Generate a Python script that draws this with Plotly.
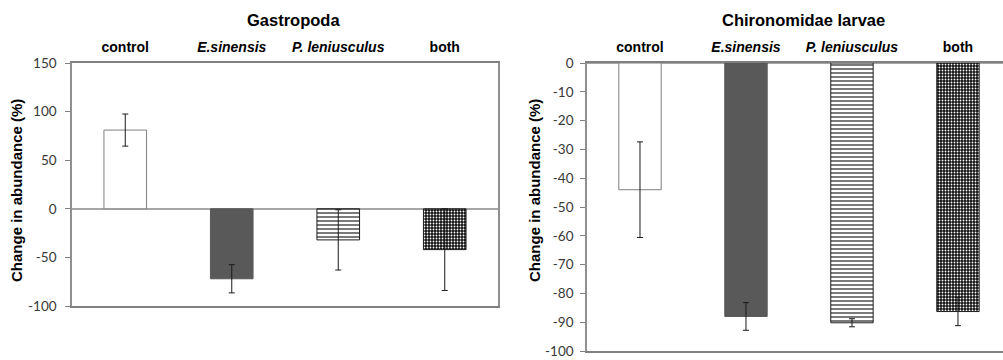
import plotly.graph_objects as go

categories = ["control", "E.sinensis", "P. leniusculus", "both"]
cat_labels = ["<b>control</b>", "<b><i>E.sinensis</i></b>", "<b><i>P. leniusculus</i></b>", "<b>both</b>"]

gastro_mean = [81, -72, -32, -42]
gastro_err = [16.5, 14.5, 31, 42]

chiro_mean = [-44, -88, -90.2, -86.3]
chiro_err = [16.6, 4.8, 1.4, 4.9]

gastro_ticks = [150, 100, 50, 0, -50, -100]
chiro_ticks = [0, -10, -20, -30, -40, -50, -60, -70, -80, -90, -100]

W, H = 1003, 360
xpos = list(range(len(categories)))

# per-treatment bar styling: fill, outline, pattern shape, pattern fg, pattern bg
styles = [
    dict(color="white", line="#7f7f7f", shape="", fg="white", bg="white", size=4, sol=0.3),
    dict(color="#595959", line="#595959", shape="", fg="#595959", bg="#595959", size=4, sol=0.3),
    dict(color="white", line="#1e1e1e", shape="-", fg="#111111", bg="white", size=4, sol=0.28),
    dict(color="black", line="#1e1e1e", shape=".", fg="white", bg="#111111", size=3, sol=0.3),
]


def add_bars(vals, errs, xa, ya):
    for i, (v, e) in enumerate(zip(vals, errs)):
        s = styles[i]
        fig.add_trace(go.Bar(
            x=[xpos[i]], y=[v], width=0.4, xaxis=xa, yaxis=ya,
            marker=dict(
                color=s["color"],
                line=dict(color=s["line"], width=1),
                pattern=dict(shape=s["shape"], fgcolor=s["fg"], bgcolor=s["bg"],
                             size=s["size"], solidity=s["sol"], fillmode="replace"),
            ),
            error_y=dict(type="data", array=[e], visible=True,
                         color="#1a1a1a", thickness=1, width=3),
            showlegend=False, hoverinfo="skip", name=categories[i],
        ))


fig = go.Figure()
add_bars(gastro_mean, gastro_err, "x", "y")
add_bars(chiro_mean, chiro_err, "x2", "y2")

tickfont = dict(family="Lato, Liberation Sans, sans-serif", size=13.5, color="#383838")
catfont = dict(family="Liberation Sans, Arial, sans-serif", size=14, color="black")

common_x = dict(
    tickmode="array", tickvals=xpos, ticktext=cat_labels, side="top",
    ticks="", tickfont=catfont, showgrid=False, zeroline=False,
    showline=True, linecolor="#808080", linewidth=1.5, ticklabelstandoff=4,
    automargin=False,
)
common_y = dict(
    showgrid=False, ticks="outside", ticklen=5, tickcolor="#808080",
    tickfont=tickfont, showline=True, linecolor="#909090", linewidth=1.5,
    zeroline=True, zerolinecolor="#a6a6a6", zerolinewidth=1.5, automargin=False,
    tickmode="array",
)

fig.update_layout(
    width=W, height=H,
    margin=dict(l=0, r=0, t=0, b=0),
    plot_bgcolor="white", paper_bgcolor="white",
    barmode="overlay",
    xaxis=dict(domain=[72 / W, 498 / W], range=[-0.5, 3.5], anchor="y",
               mirror=True, **common_x),
    yaxis=dict(domain=[(H - 306) / H, (H - 63) / H], range=[-100, 150],
               tickvals=gastro_ticks, ticktext=[str(t) for t in gastro_ticks],
               anchor="x", mirror=True, ticklabelstandoff=6, **common_y),
    xaxis2=dict(domain=[587 / W, 1.0], range=[-0.5, 3.425], anchor="y2",
                mirror=True, **common_x),
    yaxis2=dict(domain=[(H - 351) / H, (H - 63) / H], range=[-100, 0],
                tickvals=chiro_ticks, ticktext=[str(t) for t in chiro_ticks],
                anchor="x2", ticklabelstandoff=4, **common_y),
)

titlefont = dict(family="Liberation Sans, Arial, sans-serif", size=16.5, color="black")
axtitlefont = dict(family="Liberation Sans, Arial, sans-serif", size=15, color="black")


def label(text, x, y, font, angle=0):
    fig.add_annotation(text=text, x=x / W, y=(H - y) / H, xref="paper", yref="paper",
                       xanchor="center", yanchor="middle", showarrow=False,
                       textangle=angle, font=font)


label("<b>Gastropoda</b>", 293, 20, titlefont)
label("<b>Chironomidae larvae</b>", 803, 20, titlefont)
label("<b>Change in abundance (%)</b>", 16, 191, axtitlefont, -90)
label("<b>Change in abundance (%)</b>", 534, 191, axtitlefont, -90)

fig.write_html("out.html")
